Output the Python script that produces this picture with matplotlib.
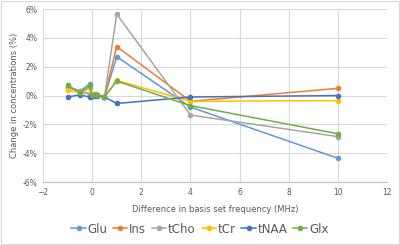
import matplotlib.pyplot as plt
from matplotlib.patches import Rectangle
from matplotlib.ticker import FuncFormatter

# basis set frequency offsets (MHz)
freq = [-1, -0.5, -0.1, 0, 0.1, 0.2, 0.5, 1, 4, 10]

# change in concentration (%)
glu = [0.6, 0.3, 0.8, 0.0, 0.05, 0.05, -0.1, 2.7, -0.8, -4.35]
ins = [0.6, 0.3, 0.1, 0.0, 0.05, 0.05, -0.1, 3.4, -0.4, 0.5]
tcho = [0.6, 0.35, 0.1, 0.0, 0.05, 0.05, -0.1, 5.65, -1.35, -2.85]
tcr = [0.4, 0.2, 0.5, 0.0, 0.05, 0.05, -0.1, 1.05, -0.4, -0.35]
tnaa = [-0.1, 0.05, -0.1, 0.0, 0.0, 0.0, -0.1, -0.55, -0.1, 0.0]
glx = [0.7, 0.2, 0.65, 0.05, 0.1, 0.05, -0.1, 1.0, -0.7, -2.65]

names = ["Glu", "Ins", "tCho", "tCr", "tNAA", "Glx"]
colors = ["#5B9BD5", "#ED7D31", "#A5A5A5", "#FFC000", "#4472C4", "#70AD47"]
series = [glu, ins, tcho, tcr, tnaa, glx]

fig = plt.figure(figsize=(4.0, 2.45), dpi=100)
fig.patches.append(Rectangle((0.002, 0.004), 0.995, 0.992, transform=fig.transFigure,
                             fill=False, edgecolor="#D9D9D9", linewidth=0.8))
ax = fig.add_axes([0.1075, 0.257, 0.86, 0.706])

for name, col, vals in zip(names, colors, series):
    ax.plot(freq, vals, "-o", color=col, label=name, linewidth=1.1, markersize=3)

ax.set_xlim(-2, 12)
ax.set_ylim(-6, 6)
ax.set_xticks(range(-2, 13, 2))
ax.set_yticks(range(-6, 7, 2))
ax.yaxis.set_major_formatter(FuncFormatter(lambda v, p: f"{v:.0f}%"))
ax.grid(True, color="#D9D9D9", linewidth=0.8)
ax.set_axisbelow(True)
for s in ["top", "right", "left"]:
    ax.spines[s].set_visible(False)
ax.spines["bottom"].set_color("#BFBFBF")
ax.tick_params(length=0, labelsize=5.5, labelcolor="#595959", pad=4)

ax.set_xlabel("Difference in basis set frequency (MHz)", fontsize=6, color="#595959", labelpad=6)
ax.set_ylabel("Change in concentrations (%)", fontsize=6, color="#595959", labelpad=3)

fig.legend(loc="center", bbox_to_anchor=(0.5, 0.065), ncol=6, frameon=False,
           fontsize=8.5, handlelength=1.2, handletextpad=0.15, columnspacing=0.5,
           labelcolor="#595959")

fig.savefig("out.png", dpi=100)
